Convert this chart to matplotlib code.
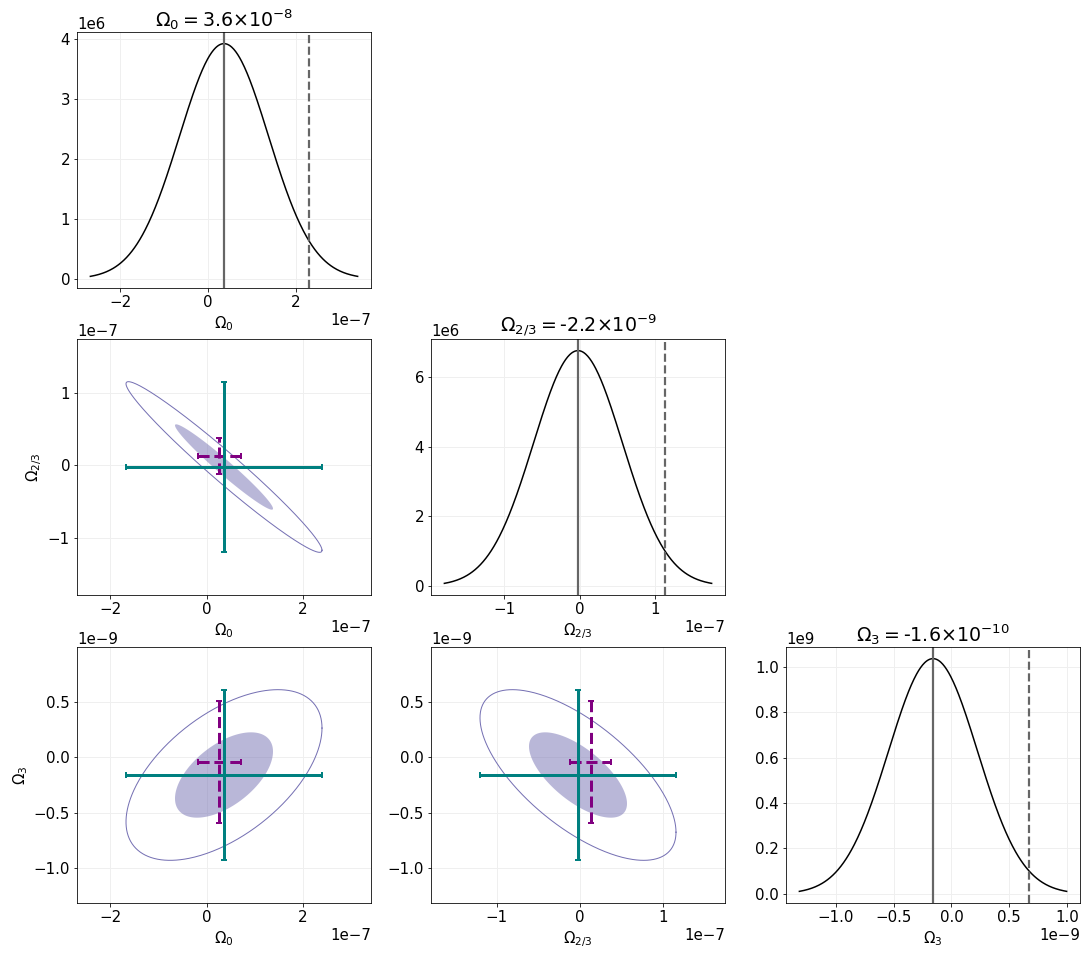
import numpy as np
import matplotlib
matplotlib.use('Agg')
import matplotlib.pyplot as plt
from matplotlib.ticker import MaxNLocator

# ---- data ----
names = [r'$\Omega_0$', r'$\Omega_{2/3}$', r'$\Omega_3$']
title_vals = ['3.6', '-2.2', '-1.6']
title_exps = ['-8', '-9', '-10']
means = [3.6e-8, -2.2e-9, -1.6e-10]
sigmas = [1.015e-7, 5.91e-8, 3.855e-10]
# correlation coefficients (row, col)
corr_10 = -0.975
corr_20 = 0.55
corr_21 = -0.67
upper_lims = [2.3e-7, 1.13e-7, 0.67e-9]
alt_centers = [2.6e-8, 1.3e-8, -4.5e-11]
alt_errs = [4.45e-8, 2.5e-8, 5.5e-10]

corr = np.array([[1.0, corr_10, corr_20],
                 [corr_10, 1.0, corr_21],
                 [corr_20, corr_21, 1.0]])

DPI = 72
W, H = 1087, 955
fig = plt.figure(figsize=(W / DPI, H / DPI), dpi=DPI)

col_left = [77, 431, 786]
row_top = [32, 339, 647]
aw, ah = 294, 256
FS = 15
TFS = 19

ell_line = '#7570b3'
ell_fill = '#7570b3'

n = 3
for i in range(n):
    for j in range(i + 1):
        l = col_left[j] / W
        b = 1 - (row_top[i] + ah) / H
        ax = fig.add_axes([l, b, aw / W, ah / H])
        ax.grid(True, color='#efefef', lw=1.0, zorder=0)
        ax.set_axisbelow(True)
        ax.tick_params(labelsize=FS)
        ax.xaxis.set_major_locator(MaxNLocator(nbins=6, steps=[1, 2, 2.5, 5, 10]))
        ax.yaxis.set_major_locator(MaxNLocator(nbins=7, steps=[1, 2, 2.5, 5, 10]))
        ax.xaxis.get_offset_text().set_fontsize(FS)
        ax.yaxis.get_offset_text().set_fontsize(FS)
        if i == j:
            mu, s = means[i], sigmas[i]
            x = np.linspace(mu - 3 * s, mu + 3 * s, 400)
            y = np.exp(-0.5 * ((x - mu) / s) ** 2) / (np.sqrt(2 * np.pi) * s)
            ax.plot(x, y, color='black', lw=1.5)
            ax.axvline(mu, color='#666666', lw=2.2)
            ax.axvline(upper_lims[i], color='#666666', lw=2.2, ls='--')
            ax.set_title(names[i] + r'$=$' + title_vals[i] + r'$\times10^{' + title_exps[i] + '}$',
                         fontsize=TFS, pad=4)
            ax.set_xlabel(names[i], fontsize=FS)
        else:
            mx, my = means[j], means[i]
            sx, sy = sigmas[j], sigmas[i]
            r = corr[i, j]
            cov = np.array([[sx ** 2, r * sx * sy], [r * sx * sy, sy ** 2]])
            L = np.linalg.cholesky(cov)
            t = np.linspace(0, 2 * np.pi, 400)
            circ = np.vstack([np.cos(t), np.sin(t)])
            p1 = L @ circ
            p2 = 2 * p1
            ax.fill(mx + p1[0], my + p1[1], color=ell_fill, alpha=0.5, lw=0, zorder=2)
            ax.plot(mx + p2[0], my + p2[1], color=ell_line, lw=1.0, zorder=2)
            eb = ax.errorbar(alt_centers[j], alt_centers[i], xerr=alt_errs[j], yerr=alt_errs[i],
                             fmt='none', ecolor='purple', elinewidth=3, capsize=3,
                             capthick=2, zorder=3)
            for c in eb.lines[2]:
                c.set_linestyle('--')
            ax.errorbar(mx, my, xerr=2 * sx, yerr=2 * sy, fmt='none', ecolor='teal',
                        elinewidth=3, capsize=3, capthick=2, zorder=4)
            ax.set_xlim(mx - 3 * sx, mx + 3 * sx)
            ax.set_ylim(my - 3 * sy, my + 3 * sy)
            ax.set_xlabel(names[j], fontsize=FS)
            if j == 0:
                ax.set_ylabel(names[i], fontsize=FS)

fig.savefig('out.png', dpi=DPI)
